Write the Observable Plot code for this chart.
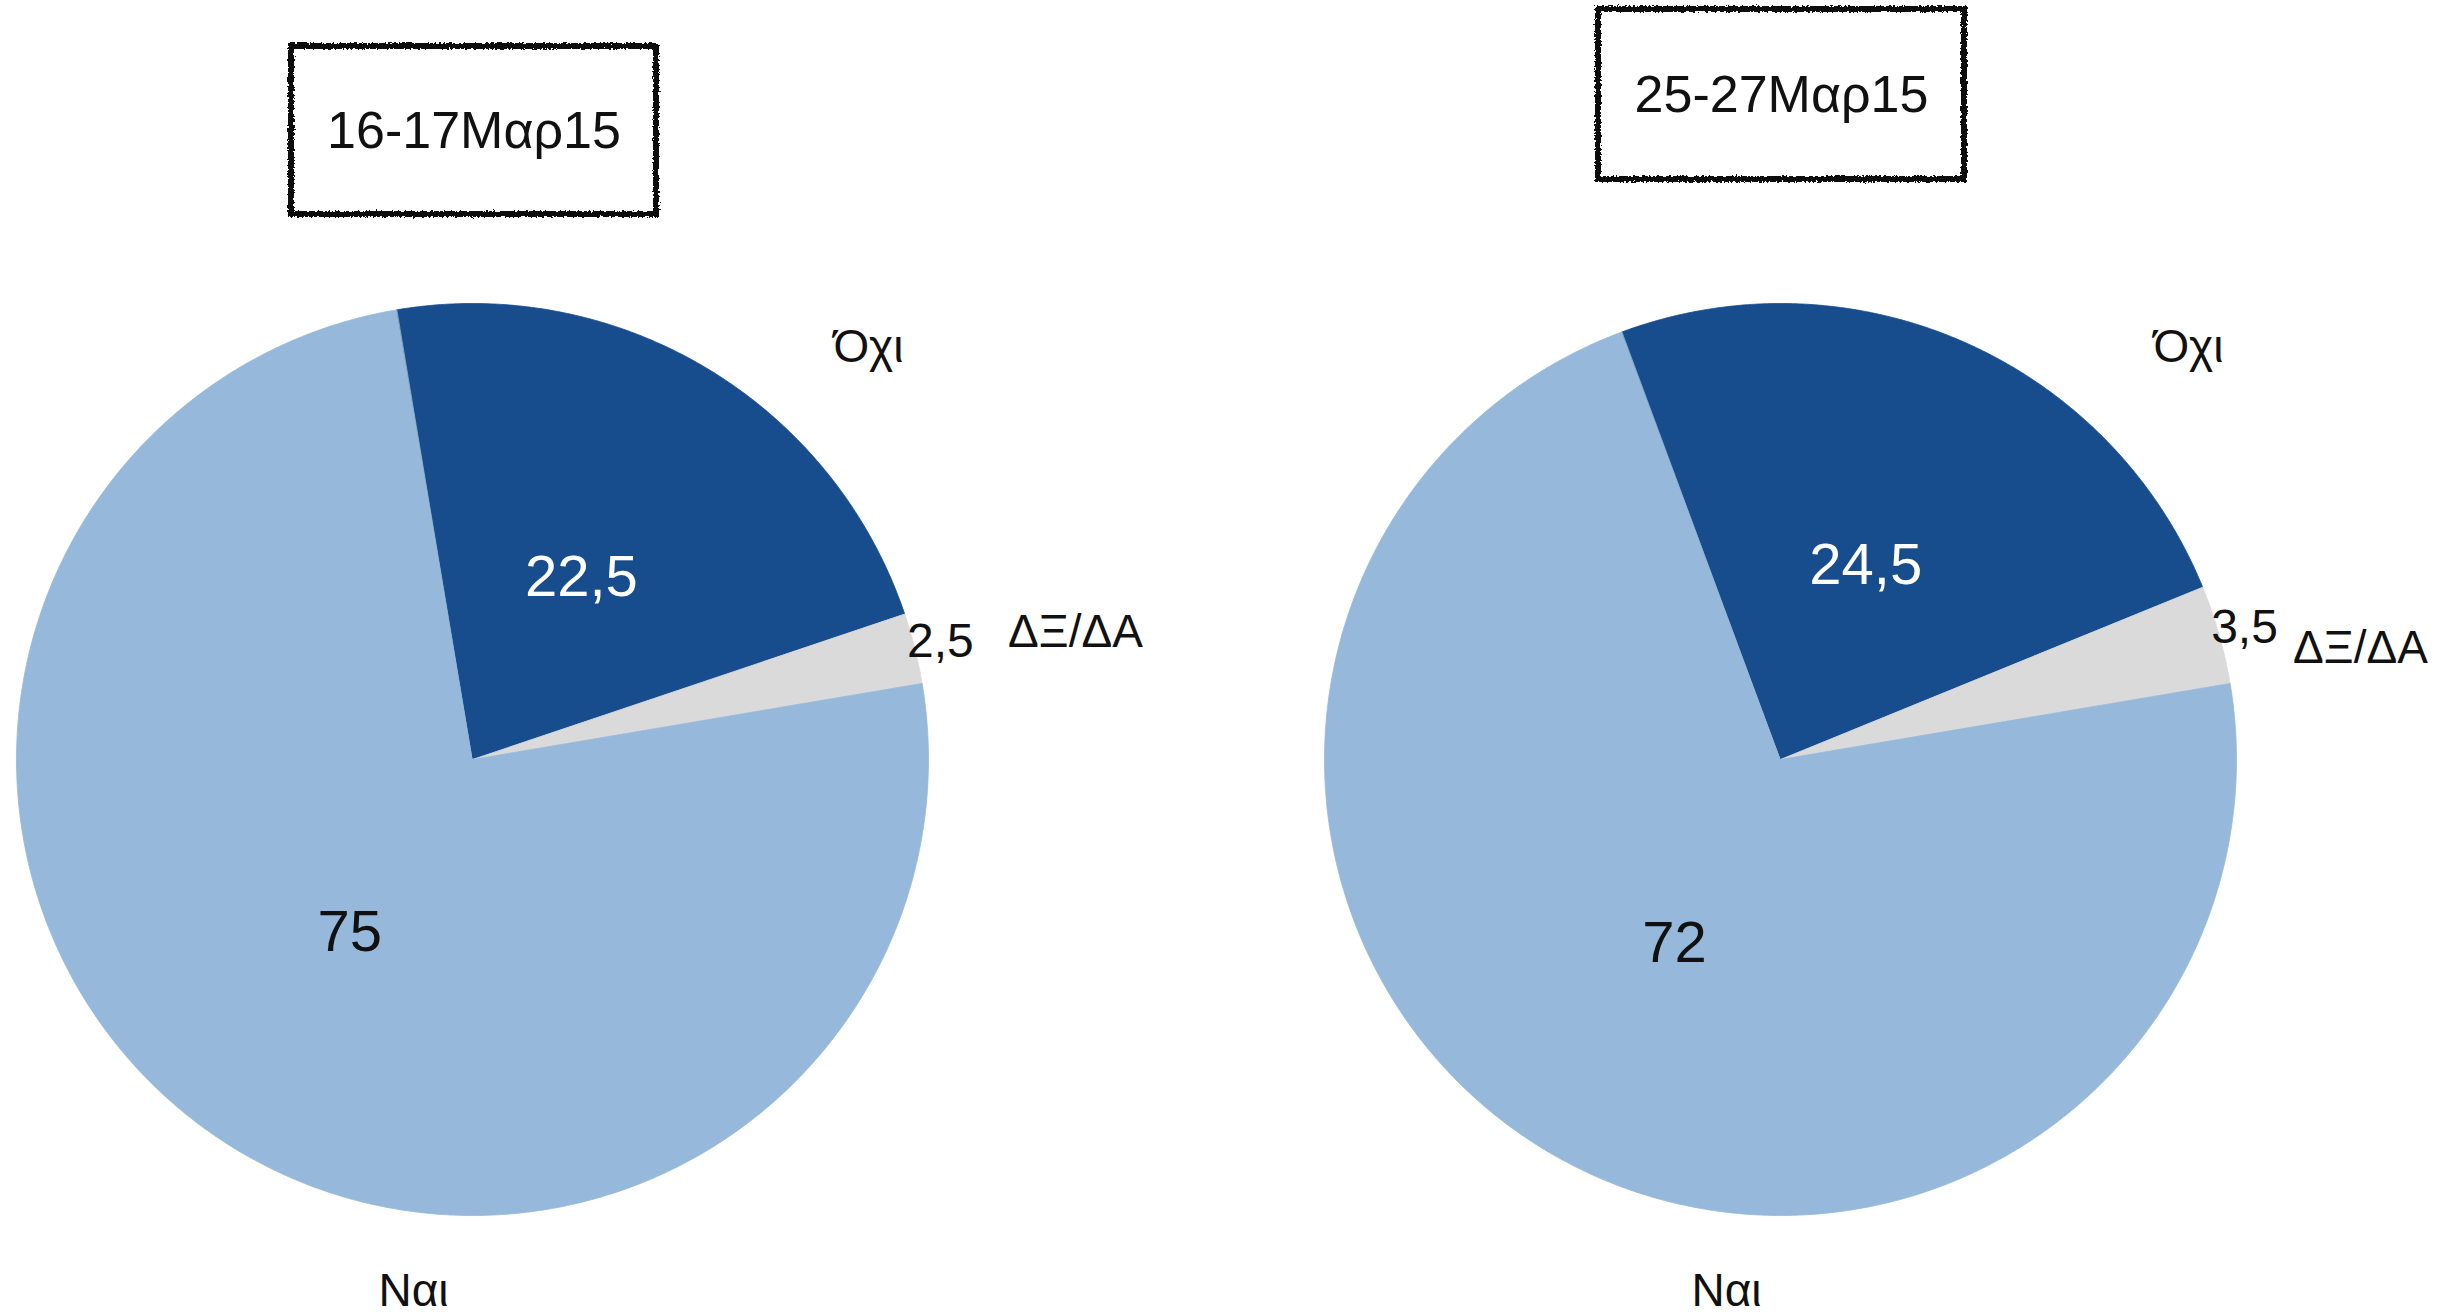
<!DOCTYPE html>
<html>
<head>
<meta charset="utf-8">
<script src="https://cdn.jsdelivr.net/npm/d3@7"></script>
<script src="https://cdn.jsdelivr.net/npm/@observablehq/plot@0.6"></script>
<style>
  html, body { margin: 0; padding: 0; background: #fff; overflow: hidden; }
  #chart svg { display: block; }
</style>
</head>
<body>
<div id="chart"></div>
<script>
// ---- data (clockwise slice order) ----
const categories = ["Όχι", "ΔΞ/ΔΑ", "Ναι"];
const sliceColors = ["#174C8D", "#DADADA", "#96B9DB"];
const valueTextColors = ["#ffffff", "#111111", "#111111"];
const surveyTitles = ["16-17Μαρ15", "25-27Μαρ15"];
const valuesMar16 = [22.5, 2.5, 75];
const valuesMar25 = [24.5, 3.5, 72];

// ---- layout ----
const W = 2454, H = 1312;
const FONT = "'Liberation Sans', Arial, Helvetica, sans-serif";
const pies = [
  { title: surveyTitles[0], values: valuesMar16, cx: 472, cy: 759, r: 456,
    box: [291, 46, 656, 214], titleY: 131,
    catOffsets: [[396, -412], [603, -127], [-59, 532]] },
  { title: surveyTitles[1], values: valuesMar25, cx: 1780, cy: 759, r: 456,
    box: [1598, 9, 1964, 179], titleY: 95,
    catOffsets: [[408, -412], [580, -111], [-54, 532]] }
];
const boundaryDeg = 80.4; // edge between ΔΞ/ΔΑ and Ναι, clockwise from 12 o'clock
const rad = d => d * Math.PI / 180;

const slicePts = [], valueLabels = [], catLabels = [], titles = [], boxes = [];
pies.forEach((p, pi) => {
  const total = d3.sum(p.values);
  const start = rad(boundaryDeg) - (p.values[0] + p.values[1]) / total * 2 * Math.PI;
  const arcs = d3.pie().sort(null).startAngle(start).endAngle(start + 2 * Math.PI)(p.values);
  arcs.forEach((a, i) => {
    const key = pi + "-" + i;
    const cat = categories[i];
    slicePts.push({ key, cat, x: p.cx, y: p.cy });
    const n = Math.max(4, Math.ceil((a.endAngle - a.startAngle) / rad(0.4)));
    for (let k = 0; k <= n; k++) {
      const t = a.startAngle + (a.endAngle - a.startAngle) * k / n;
      slicePts.push({ key, cat, x: p.cx + p.r * Math.sin(t), y: p.cy - p.r * Math.cos(t) });
    }
    const mid = (a.startAngle + a.endAngle) / 2;
    const share = a.value / total;
    const rr = share < 0.05 ? 1.058 : 0.465;
    valueLabels.push({
      x: p.cx + p.r * rr * Math.sin(mid), y: p.cy - p.r * rr * Math.cos(mid),
      text: String(a.value).replace(".", ","), color: valueTextColors[i],
      size: share < 0.05 ? 48 : 58
    });
    catLabels.push({ x: p.cx + p.catOffsets[i][0], y: p.cy + p.catOffsets[i][1], text: cat });
  });
  titles.push({ x: (p.box[0] + p.box[2]) / 2, y: p.titleY, text: p.title });
  boxes.push({ x1: p.box[0], y1: p.box[1], x2: p.box[2], y2: p.box[3] });
});

const plot = Plot.plot({
  width: W, height: H,
  margin: 0,
  style: { fontFamily: FONT, background: "#fff", overflow: "visible" },
  x: { axis: null, domain: [0, W], range: [0, W] },
  y: { axis: null, domain: [0, H], range: [0, H] },
  color: { domain: categories, range: sliceColors },
  marks: [
    Plot.line(slicePts, { x: "x", y: "y", z: "key", fill: "cat", stroke: "cat", strokeWidth: 0.8, curve: "linear-closed" }),
    Plot.rect(boxes, { x1: "x1", y1: "y1", x2: "x2", y2: "y2", fill: "white", stroke: "#111", strokeWidth: 6 }),
    Plot.text(titles, { x: "x", y: "y", text: "text", fontSize: 52, fill: "#111", textAnchor: "middle", lineAnchor: "middle" }),
    Plot.text(valueLabels, { x: "x", y: "y", text: "text", fill: d => d.color, fontSize: d => d.size, textAnchor: "middle", lineAnchor: "middle" }),
    Plot.text(catLabels, { x: "x", y: "y", text: "text", fontSize: 46, fill: "#111", textAnchor: "middle", lineAnchor: "middle" })
  ]
});

// rough, hand-drawn look for the title frames
const svg = d3.select(plot);
const defs = svg.insert("defs", ":first-child");
const f = defs.append("filter").attr("id", "grunge").attr("x", "-5%").attr("y", "-10%").attr("width", "110%").attr("height", "120%");
f.append("feTurbulence").attr("type", "fractalNoise").attr("baseFrequency", "0.45").attr("numOctaves", 2).attr("seed", 7).attr("result", "noise");
f.append("feDisplacementMap").attr("in", "SourceGraphic").attr("in2", "noise").attr("scale", 5).attr("xChannelSelector", "R").attr("yChannelSelector", "G");
svg.selectAll('g[aria-label="rect"]').attr("filter", "url(#grunge)");

document.getElementById("chart").appendChild(plot);
</script>
</body>
</html>
